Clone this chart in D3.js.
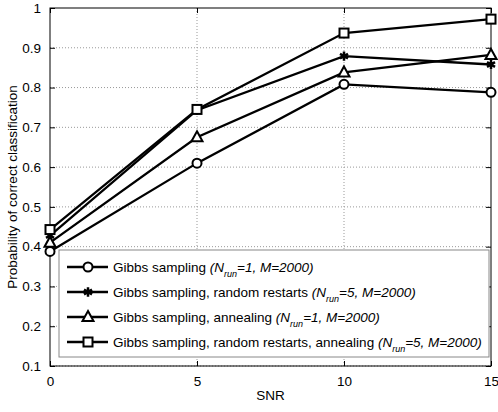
<!DOCTYPE html>
<html>
<head>
<meta charset="utf-8">
<script src="https://cdn.jsdelivr.net/npm/d3@7"></script>
<style>
  body { margin: 0; background: #fff; }
  text { font-family: "Liberation Sans", Arial, sans-serif; }
</style>
</head>
<body>
<div id="chart"></div>
<script>
const snr = [0, 5, 10, 15];
const gibbs = [0.388, 0.610, 0.808, 0.788];
const restarts = [0.428, 0.743, 0.879, 0.858];
const annealing = [0.410, 0.675, 0.838, 0.882];
const restartsAnnealing = [0.443, 0.745, 0.937, 0.972];
const xTicks = [0, 5, 10, 15];
const yTicks = [0.1, 0.2, 0.3, 0.4, 0.5, 0.6, 0.7, 0.8, 0.9, 1];

const series = [
    {name: "Gibbs sampling ", nrun: "1", values: gibbs, marker: "circle"},
    {name: "Gibbs sampling, random restarts ", nrun: "5", values: restarts, marker: "star"},
    {name: "Gibbs sampling, annealing ", nrun: "1", values: annealing, marker: "triangle"},
    {name: "Gibbs sampling, random restarts, annealing ", nrun: "5", values: restartsAnnealing, marker: "square"}
];

const margin = {top: 8, right: 7, bottom: 46, left: 50};
const width = 498 - margin.left - margin.right;
const height = 412 - margin.top - margin.bottom;
const fs = "13.5px";

const x = d3.scaleLinear().domain([0, 15]).range([0, width]);
const y = d3.scaleLinear().domain([0.1, 1]).range([height, 0]);

const svg = d3.select("#chart")
    .append("svg")
        .attr("width", 498)
        .attr("height", 412)
    .append("g")
        .attr("transform", `translate(${margin.left}, ${margin.top})`);

// grid
svg.append("g")
    .selectAll("line")
    .data(yTicks.slice(0, -1))
    .join("line")
        .attr("x1", 0).attr("x2", width)
        .attr("y1", d => y(d)).attr("y2", d => y(d))
        .attr("stroke", "#999").attr("stroke-dasharray", "1,2");
svg.append("g")
    .selectAll("line")
    .data(xTicks.slice(1, -1))
    .join("line")
        .attr("x1", d => x(d)).attr("x2", d => x(d))
        .attr("y1", 0).attr("y2", height)
        .attr("stroke", "#999").attr("stroke-dasharray", "1,2");

// axes (ticks inside, on all four sides)
const axisStyle = g => {
    g.select(".domain").remove();
    g.selectAll("text").style("font-size", fs).attr("fill", "#000");
    g.selectAll("line").attr("stroke", "#000");
};
svg.append("g")
    .attr("transform", `translate(0, ${height})`)
    .call(d3.axisBottom(x).tickValues(xTicks).tickSizeInner(-5).tickPadding(10))
    .call(axisStyle);
svg.append("g")
    .call(d3.axisLeft(y).tickValues(yTicks).tickFormat(d3.format("~g")).tickSizeInner(-5).tickPadding(9))
    .call(axisStyle);
svg.append("g")
    .call(d3.axisTop(x).tickValues(xTicks).tickSizeInner(-5).tickFormat(""))
    .call(axisStyle);
svg.append("g")
    .attr("transform", `translate(${width}, 0)`)
    .call(d3.axisRight(y).tickValues(yTicks).tickSizeInner(-5).tickFormat(""))
    .call(axisStyle);

svg.append("rect")
    .attr("width", width).attr("height", height)
    .attr("fill", "none").attr("stroke", "#000");

// marker drawing
function drawMarker(g, type) {
    if (type === "circle") {
        g.append("circle").attr("r", 4.5).attr("fill", "#fff").attr("stroke", "#000").attr("stroke-width", 2);
    } else if (type === "square") {
        g.append("rect").attr("x", -4.5).attr("y", -4.5).attr("width", 9).attr("height", 9)
            .attr("fill", "#fff").attr("stroke", "#000").attr("stroke-width", 2);
    } else if (type === "triangle") {
        g.append("path").attr("d", "M0,-6L5.5,4L-5.5,4Z")
            .attr("fill", "#fff").attr("stroke", "#000").attr("stroke-width", 2);
    } else {
        g.append("path").attr("d", d3.symbol(d3.symbolAsterisk, 60)())
            .attr("fill", "none").attr("stroke", "#000").attr("stroke-width", 2.5);
    }
}

const line = d3.line()
    .x((d, i) => x(snr[i]))
    .y(d => y(d));

series.forEach(s => {
    svg.append("path")
        .datum(s.values)
        .attr("fill", "none")
        .attr("stroke", "#000")
        .attr("stroke-width", 2.3)
        .attr("d", line);
});
series.forEach(s => {
    s.values.forEach((v, i) => {
        const g = svg.append("g").attr("transform", `translate(${x(snr[i])}, ${y(v)})`);
        drawMarker(g, s.marker);
    });
});

// legend
const legend = svg.append("g").attr("transform", "translate(9, 242)");
legend.append("rect")
    .attr("width", 430).attr("height", 107)
    .attr("fill", "#fff").attr("stroke", "#888");
series.forEach((s, i) => {
    const row = legend.append("g").attr("transform", `translate(0, ${17 + i * 25})`);
    row.append("line").attr("x1", 8).attr("x2", 49).attr("stroke", "#000").attr("stroke-width", 2.3);
    const m = row.append("g").attr("transform", "translate(29, 0)");
    drawMarker(m, s.marker);
    const t = row.append("text").attr("x", 54).attr("y", 5).style("font-size", fs);
    t.append("tspan").text(s.name);
    t.append("tspan").style("font-style", "italic").text("(N");
    t.append("tspan").style("font-style", "italic").style("font-size", "9px").attr("dy", 5).text("run");
    t.append("tspan").style("font-style", "italic").attr("dy", -5).text(`=${s.nrun}, M=2000)`);
});

// axis labels
svg.append("text")
    .attr("x", width / 2)
    .attr("y", height + 34)
    .attr("text-anchor", "middle")
    .style("font-size", fs)
    .text("SNR");
svg.append("text")
    .attr("transform", "rotate(-90)")
    .attr("x", -height / 2)
    .attr("y", -33)
    .attr("text-anchor", "middle")
    .style("font-size", fs)
    .text("Probability of correct classification");
</script>
</body>
</html>
